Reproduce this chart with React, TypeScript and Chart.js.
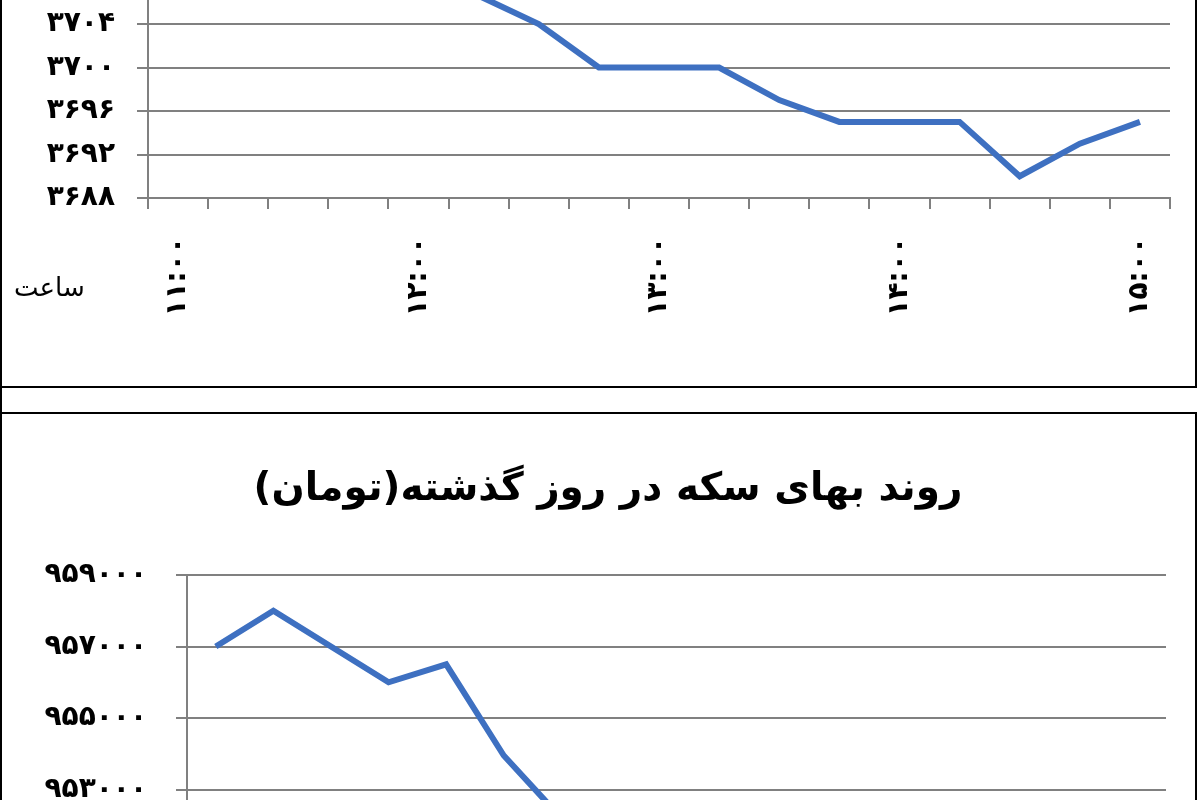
import { useEffect, useRef } from "react";
import { Chart, registerables } from "chart.js";
import type { Plugin } from "chart.js";

Chart.register(...registerables);

// time of day, every 15 minutes
const hours = [
  "۱۱:۰۰", "۱۱:۱۵", "۱۱:۳۰", "۱۱:۴۵",
  "۱۲:۰۰", "۱۲:۱۵", "۱۲:۳۰", "۱۲:۴۵",
  "۱۳:۰۰", "۱۳:۱۵", "۱۳:۳۰", "۱۳:۴۵",
  "۱۴:۰۰", "۱۴:۱۵", "۱۴:۳۰", "۱۴:۴۵",
  "۱۵:۰۰",
];

// upper chart: values above the cropped edge can't be read -> null
const dollarPrices = [
  null, null, null, null, null, 3706.6, 3704, 3700, 3700, 3700,
  3697, 3695, 3695, 3695, 3690, 3693, 3695,
];
const dollarAxis = [3688, 3720, 4]; // min, max, step

// lower chart: only the part before the cropped bottom edge is readable
const coinPrices = [957000, 958000, 957000, 956000, 956500, 953950, 952200];
const coinAxis = [947000, 959000, 2000];
const coinTitle = "روند بهای سکه در روز گذشته(تومان)";
const xAxisTitle = "ساعت";

const FONT = "'DejaVu Sans', sans-serif";
const GRID = "#808080";
const LINE = "#3e70c1";

const toFa = (s: string) => s.replace(/\d/g, (d) => "۰۱۲۳۴۵۶۷۸۹"[+d]);

// the title in the picture sits a bit right of the canvas centre, so draw it ourselves
const titleAt = (text: string, x: number, y: number): Plugin<"line"> => ({
  id: "offsetTitle",
  afterDraw(chart) {
    const ctx = chart.ctx;
    ctx.save();
    ctx.font = `bold 39px ${FONT}`;
    ctx.fillStyle = "#000";
    ctx.textAlign = "center";
    ctx.textBaseline = "middle";
    ctx.fillText(text, x, y);
    ctx.restore();
  },
});

interface PanelProps {
  values: (number | null)[];
  axis: number[];
  width: number;
  height: number;
  area: { left: number; right: number; top: number; bottom: number };
  yLabelPad: number;
  title?: string;
  style: React.CSSProperties;
}

function LinePanel({ values, axis, width, height, area, yLabelPad, title, style }: PanelProps) {
  const ref = useRef<HTMLCanvasElement>(null);

  useEffect(() => {
    if (!ref.current) return;
    const [min, max, step] = axis;

    const chart = new Chart(ref.current, {
      type: "line",
      data: {
        labels: hours,
        datasets: [
          {
            data: values,
            borderColor: LINE,
            borderWidth: 6,
            pointRadius: 0,
            tension: 0,
            fill: false,
          },
        ],
      },
      options: {
        responsive: false,
        animation: false,
        layout: {
          padding: { left: 0, right: width - area.right, top: area.top, bottom: 0 },
        },
        plugins: {
          legend: { display: false },
          tooltip: { enabled: false },
          title: { display: false },
        },
        scales: {
          x: {
            offset: true,
            afterFit: (scale) => {
              scale.height = height - area.bottom;
            },
            grid: {
              offset: true,
              drawOnChartArea: false,
              color: GRID,
              lineWidth: 2,
              tickLength: 11,
            },
            border: { color: GRID, width: 2 },
            ticks: {
              autoSkip: false,
              minRotation: 90,
              maxRotation: 90,
              padding: 28,
              color: "#000",
              font: { family: FONT, size: 28, weight: "bold" },
              callback: (_v, i) => (i % 4 === 0 ? hours[i] : ""),
            },
          },
          y: {
            min,
            max,
            afterFit: (scale) => {
              scale.width = area.left;
            },
            grid: { color: GRID, lineWidth: 2, tickLength: 11 },
            border: { color: GRID, width: 2 },
            ticks: {
              stepSize: step,
              padding: yLabelPad,
              color: "#000",
              font: { family: FONT, size: 28, weight: "bold" },
              callback: (v) => toFa(String(v)),
            },
          },
        },
      },
      plugins: title ? [titleAt(title, 608, 76)] : [],
    });

    return () => chart.destroy();
  }, [values, axis, width, height, area, yLabelPad, title]);

  return (
    <canvas
      ref={ref}
      width={width}
      height={height}
      style={{ position: "absolute", width, height, direction: "rtl", ...style }}
    />
  );
}

export default function App() {
  return (
    <div
      style={{
        position: "fixed",
        left: 0,
        top: 0,
        width: 1200,
        height: 800,
        overflow: "hidden",
        background: "#fff",
      }}
    >
      {/* frames */}
      <div
        style={{
          position: "absolute",
          left: 0,
          top: -10,
          width: 1197,
          height: 398,
          boxSizing: "border-box",
          border: "2px solid #000",
        }}
      />
      <div style={{ position: "absolute", left: 0, top: 388, width: 2, height: 24, background: "#000" }} />
      <div
        style={{
          position: "absolute",
          left: 0,
          top: 412,
          width: 1197,
          height: 600,
          boxSizing: "border-box",
          border: "2px solid #000",
        }}
      />

      <LinePanel
        values={dollarPrices}
        axis={dollarAxis}
        width={1204}
        height={787}
        area={{ left: 148, right: 1170, top: 250, bottom: 598 }}
        yLabelPad={22}
        style={{ left: 0, top: -400 }}
      />
      <div
        style={{
          position: "absolute",
          left: 14,
          top: 272,
          fontFamily: FONT,
          fontSize: 26,
          color: "#000",
        }}
      >
        {xAxisTitle}
      </div>

      <LinePanel
        values={coinPrices}
        axis={coinAxis}
        width={1200}
        height={780}
        area={{ left: 187, right: 1166, top: 161, bottom: 590 }}
        yLabelPad={29}
        title={coinTitle}
        style={{ left: 0, top: 414 }}
      />
    </div>
  );
}
